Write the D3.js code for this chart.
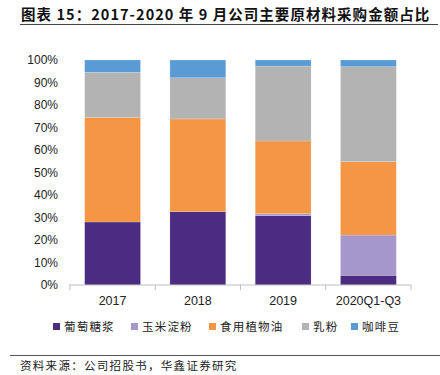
<!DOCTYPE html>
<html>
<head>
<meta charset="utf-8">
<script src="https://cdn.jsdelivr.net/npm/d3@7"></script>
<style>
  body { margin: 0; background: #fff; }
  svg { display: block; font-family: "Noto Sans CJK SC", "Noto Sans", sans-serif; }
</style>
</head>
<body>
<div id="chart"></div>
<script>
const categories = ['2017', '2018', '2019', '2020Q1-Q3']
const seriesNames = ['葡萄糖浆', '玉米淀粉', '食用植物油', '乳粉', '咖啡豆']
const glucose = [28.0, 32.6, 30.8, 4.3]
const cornStarch = [0, 0, 0.9, 17.9]
const vegOil = [46.5, 41.2, 32.3, 32.6]
const milkPowder = [20.0, 18.3, 33.3, 42.2]
const coffee = [5.5, 7.9, 2.7, 3.0]
const yTicks = [0, 10, 20, 30, 40, 50, 60, 70, 80, 90, 100]
const colors = ['#4b2c80', '#a597cc', '#f59646', '#b3b3b3', '#5b9bd5']

const width = 440
const height = 375
const svg = d3.select('#chart').append('svg')
  .attr('width', width)
  .attr('height', height)

// title
svg.append('text')
  .attr('x', 21)
  .attr('y', 20)
  .attr('font-size', 14.5)
  .attr('font-weight', 'bold')
  .attr('fill', '#111')
  .attr('letter-spacing', 1.05)
  .text('图表 15：2017-2020 年 9 月公司主要原材料采购金额占比')
svg.append('line')
  .attr('x1', 20).attr('x2', 438)
  .attr('y1', 24.5).attr('y2', 24.5)
  .attr('stroke', '#444').attr('stroke-width', 1)

const x = d3.scaleBand().domain(categories).range([70, 411]).paddingInner(0.345).paddingOuter(0.172)
const y = d3.scaleLinear().domain([0, 100]).range([285, 60])

const rows = categories.map((c, i) => ({
  cat: c,
  s0: glucose[i], s1: cornStarch[i], s2: vegOil[i], s3: milkPowder[i], s4: coffee[i]
}))
const stack = d3.stack().keys(['s0', 's1', 's2', 's3', 's4'])(rows)

svg.append('g').selectAll('g').data(stack).enter().append('g')
  .attr('fill', (d, i) => colors[i])
  .selectAll('rect').data(d => d).enter().append('rect')
  .attr('x', d => x(d.data.cat))
  .attr('width', x.bandwidth())
  .attr('y', d => y(d[1]))
  .attr('height', d => y(d[0]) - y(d[1]))
  .attr('stroke', 'rgba(255,255,255,0.35)')
  .attr('stroke-width', 0.5)

// y axis labels
const yAxis = d3.axisLeft(y).tickValues(yTicks).tickFormat(d => d + '%').tickSize(0).tickPadding(0)
const gy = svg.append('g').attr('transform', 'translate(58,0)').call(yAxis)
gy.select('.domain').remove()
gy.selectAll('text').attr('font-size', 12).attr('fill', '#222')
  .attr('font-family', '"Liberation Sans", Arial, sans-serif')

// x axis
const gx = svg.append('g').attr('transform', 'translate(0,285)')
gx.append('line').attr('x1', 69).attr('x2', 411).attr('stroke', '#bfbfbf')
const tickXs = categories.map(c => x(c) - x.step() * x.paddingInner() / 2).concat([411])
gx.selectAll('.tk').data(tickXs).enter().append('line')
  .attr('x1', d => d).attr('x2', d => d)
  .attr('y1', 0).attr('y2', 5)
  .attr('stroke', '#bfbfbf')
gx.selectAll('text').data(categories).enter().append('text')
  .attr('x', d => x(d) + x.bandwidth() / 2)
  .attr('y', 20)
  .attr('text-anchor', 'middle')
  .attr('font-size', 12.5)
  .attr('fill', '#222')
  .attr('font-family', '"Liberation Sans", Arial, sans-serif')
  .text(d => d)

// legend
const legendX = [53, 131, 209, 302, 351]
const lg = svg.append('g').selectAll('g').data(seriesNames).enter().append('g')
  .attr('transform', (d, i) => `translate(${legendX[i]},327)`)
lg.append('rect').attr('x', 0).attr('y', -4).attr('width', 7).attr('height', 7)
  .attr('fill', (d, i) => colors[i])
lg.append('text').attr('x', 11).attr('y', 4).attr('font-size', 11.5).attr('fill', '#222')
  .attr('letter-spacing', 1.2)
  .text(d => d)

// footer
svg.append('line')
  .attr('x1', 10).attr('x2', 440)
  .attr('y1', 355.5).attr('y2', 355.5)
  .attr('stroke', '#555').attr('stroke-width', 1)
svg.append('text')
  .attr('x', 20).attr('y', 370)
  .attr('font-size', 11.5).attr('fill', '#222')
  .attr('letter-spacing', 1.3)
  .text('资料来源：公司招股书，华鑫证券研究')
</script>
</body>
</html>
